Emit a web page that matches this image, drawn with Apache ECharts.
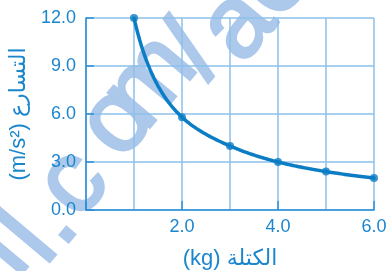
<!DOCTYPE html>
<html>
<head>
<meta charset="utf-8">
<script src="https://cdn.jsdelivr.net/npm/echarts@6/dist/echarts.min.js"></script>
<style>
  html, body { margin: 0; padding: 0; background: #fff; }
  #chart { width: 390px; height: 271px; }
</style>
</head>
<body>
<div id="chart"></div>
<script>
(function() {
  var massKg = [1, 2, 3, 4, 5, 6];
  var accel = [12.0, 5.8, 4.0, 3.0, 2.4, 2.0];
  var xName = '(kg) الكتلة';
  var yName = '(m/s²) التسارع';
  // watermark letters laid over the plot: [char, x, y]
  var wmLetters = [
    ['i', 3, 252], ['l', 31, 240], ['.', 50, 220], ['c', 74, 184],
    ['o', 118, 122], ['m', 151, 82], ['/', 195, 53], ['a', 239, 26], ['e', 275, -18]
  ];

  var blue = '#1a86cc';
  var axisBlue = '#2b8ed6';
  var gridBlue = '#8ec0ea';
  var lineBlue = '#0b7dc4';
  var wmBlue = '#acc8eb';
  var font = 'Liberation Sans, Arial, DejaVu Sans, sans-serif';

  var chart = echarts.init(document.getElementById('chart'), null, { renderer: 'canvas' });

  var pts = massKg.map(function(m, i) { return [m, accel[i]]; });

  // smooth curve through the points: monotone cubic in log-log space
  var logPts = pts.map(function(p) { return [Math.log(p[0]), Math.log(p[1])]; });
  function tangents(p) {
    var n = p.length, s = [], t = [];
    for (var i = 0; i < n - 1; i++) s.push((p[i + 1][1] - p[i][1]) / (p[i + 1][0] - p[i][0]));
    for (var j = 1; j < n - 1; j++) {
      var h0 = p[j][0] - p[j - 1][0], h1 = p[j + 1][0] - p[j][0];
      var q = (s[j - 1] * h1 + s[j] * h0) / (h0 + h1);
      t[j] = (Math.sign(s[j - 1]) + Math.sign(s[j])) *
        Math.min(Math.abs(s[j - 1]), Math.abs(s[j]), 0.5 * Math.abs(q)) || 0;
    }
    t[0] = (3 * s[0] - t[1]) / 2;
    t[n - 1] = (3 * s[n - 2] - t[n - 2]) / 2;
    return t;
  }
  var tang = tangents(logPts);

  function segmentPoints(i, api) {
    var a = logPts[i], b = logPts[i + 1], h = b[0] - a[0], out = [];
    for (var k = 0; k <= 24; k++) {
      var t = k / 24, t2 = t * t, t3 = t2 * t;
      var Y = (2 * t3 - 3 * t2 + 1) * a[1] + (t3 - 2 * t2 + t) * h * tang[i] +
              (-2 * t3 + 3 * t2) * b[1] + (t3 - t2) * h * tang[i + 1];
      var X = a[0] + t * h;
      out.push(api.coord([Math.exp(X), Math.exp(Y)]));
    }
    return out;
  }

  var graphics = wmLetters.map(function(w) {
    return {
      type: 'text',
      x: w[1], y: w[2],
      rotation: 50 * Math.PI / 180,
      z: -1,
      silent: true,
      style: {
        text: w[0],
        font: '102px Liberation Sans, Arial, sans-serif',
        fill: wmBlue,
        stroke: wmBlue,
        lineWidth: 3,
        align: 'center',
        verticalAlign: 'middle'
      }
    };
  });

  chart.setOption({
    animation: false,
    grid: { left: 86, right: 16, top: 18, bottom: 61, containLabel: false, outerBoundsMode: 'none' },
    xAxis: {
      type: 'value',
      min: 0, max: 6, interval: 2,
      name: xName,
      nameLocation: 'middle',
      nameGap: 38,
      nameTextStyle: { color: blue, fontSize: 22, fontFamily: font },
      axisLine: { show: true, lineStyle: { color: axisBlue, width: 1.5 } },
      axisTick: { show: true, inside: true, length: 9, lineStyle: { color: axisBlue, width: 1.5 } },
      minorTick: { show: false, splitNumber: 2 },
      splitLine: { show: true, lineStyle: { color: gridBlue, width: 1.5 } },
      minorSplitLine: { show: true, lineStyle: { color: gridBlue, width: 1.5 } },
      axisLabel: {
        color: blue, fontSize: 18, fontFamily: font, margin: 8,
        formatter: function(v) { return v === 0 ? '' : v.toFixed(1); }
      }
    },
    yAxis: {
      type: 'value',
      min: 0, max: 12, interval: 3,
      name: yName,
      nameLocation: 'middle',
      nameGap: 56,
      nameRotate: 90,
      nameTextStyle: { color: blue, fontSize: 22, fontFamily: font },
      axisLine: { show: true, lineStyle: { color: axisBlue, width: 1.5 } },
      axisTick: { show: true, inside: true, length: 8, lineStyle: { color: axisBlue, width: 1.5 } },
      splitLine: { show: true, lineStyle: { color: gridBlue, width: 1.5 } },
      axisLabel: {
        color: blue, fontSize: 18, fontFamily: font, margin: 10,
        formatter: function(v) { return v.toFixed(1); }
      }
    },
    graphic: graphics,
    series: [{
      type: 'custom',
      data: pts,
      encode: { x: 0, y: 1 },
      z: 5,
      silent: true,
      renderItem: function(params, api) {
        var i = params.dataIndex;
        if (i >= pts.length - 1) return null;
        return {
          type: 'polyline',
          shape: { points: segmentPoints(i, api) },
          style: { stroke: lineBlue, lineWidth: 3.5, fill: null, lineCap: 'round', lineJoin: 'round' }
        };
      }
    }, {
      type: 'scatter',
      data: pts,
      symbol: 'circle',
      symbolSize: 8,
      z: 6,
      itemStyle: { color: lineBlue }
    }]
  });
})();
</script>
</body>
</html>
